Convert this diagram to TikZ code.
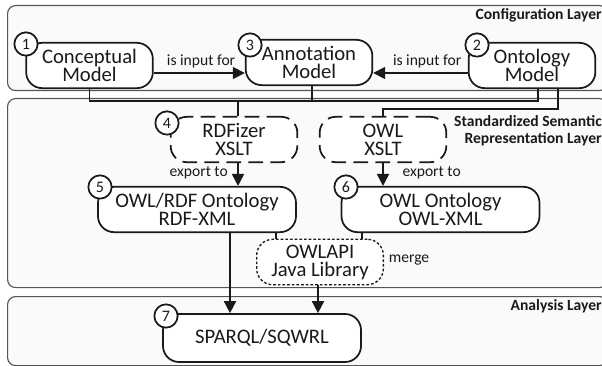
\documentclass[tikz,border=0pt]{standalone}
\usepackage{fontspec}
\setmainfont{Carlito}
\usetikzlibrary{arrows.meta}
\definecolor{layerline}{HTML}{555555}
\definecolor{ink}{HTML}{1A1A1A}
\tikzset{
  x=0.75pt,y=-0.75pt,
  layerbox/.style={draw=layerline,line width=0.85pt,rounded corners=6pt,fill=white!98!black,anchor=north west,inner sep=0pt},
  modelbox/.style={draw=ink,line width=1.3pt,rounded corners=12pt,fill=white,inner sep=0pt,align=center,
    font=\fontsize{15.5}{13.5}\selectfont,text=ink},
  normalbox/.style={modelbox,minimum width=95pt,minimum height=34pt},
  widebox/.style={modelbox,minimum width=148.5pt,minimum height=34pt},
  xsltbox/.style={normalbox,dash pattern=on 11pt off 5.5pt},
  apibox/.style={normalbox,line width=1pt,dash pattern=on 2pt off 1.5pt},
  numcircle/.style={circle,draw=ink,line width=1.3pt,fill=white,inner sep=0pt,minimum size=17.5pt,
    font=\fontsize{12}{12}\selectfont,text=ink},
  conn/.style={draw=ink,line width=1.3pt},
  flow/.style={conn,-{Triangle[length=9pt,width=9pt]}},
  edgelabel/.style={font=\fontsize{11.7}{11.7}\selectfont,text=ink,inner sep=0pt},
  layertitle/.style={font=\bfseries\fontsize{11.7}{12.7}\selectfont,text=ink,inner sep=0pt,anchor=east,align=right},
}
\begin{document}
\begin{tikzpicture}
\useasboundingbox (0,0) rectangle (602,366);
% layers
\node[layerbox,minimum width=450pt,minimum height=63.75pt] (config) at (7,5) {};
\node[layerbox,minimum width=450pt,minimum height=141.75pt] (std) at (7,98) {};
\node[layerbox,minimum width=450pt,minimum height=51.75pt] (analysis) at (7,296) {};
\node[layertitle] (t1) at (602,15) {Configuration Layer};
\node[layertitle] (t2) at (602,131) {Standardized Semantic\\Representation Layer};
\node[layertitle] (t3) at (602,306) {Analysis Layer};
% boxes
\node[normalbox] (concept) at (89.5,65.5) {Conceptual\\Model};
\node[normalbox] (annot) at (309,62.5) {Annotation\\Model};
\node[normalbox] (onto) at (532,65.5) {Ontology\\Model};
\node[xsltbox] (rdfizer) at (234,139.5) {RDFizer\\XSLT};
\node[xsltbox] (owlx) at (383,139.5) {OWL\\XSLT};
\node[widebox] (owlrdf) at (197,209.5) {OWL/RDF Ontology\\RDF-XML};
\node[widebox] (owlont) at (440.5,209.5) {OWL Ontology\\OWL-XML};
\node[apibox] (api) at (320,262) {OWLAPI\\Java Library};
\node[widebox,minimum height=36pt] (sparql) at (262,338) {SPARQL/SQWRL};
% connectors
\coordinate (bus) at (538,101);
\coordinate (busb) at (558,109);
\draw[conn] (concept.south) |- (bus) -- ([xshift=4.5pt]onto.south);
\draw[conn] ([xshift=2.25pt]annot.south) |- (bus);
\draw[conn] ([xshift=3pt]rdfizer.north) |- (bus);
\draw[conn] ([xshift=19.5pt]onto.south) |- (busb) -| (owlx.north);
\draw[flow] (concept.east |- 0,73) -- node[edgelabel,pos=0.52,yshift=8.5pt] (l1) {is input for} (annot.west |- 0,73);
\draw[flow] (onto.west |- 0,73) -- node[edgelabel,pos=0.43,yshift=8.5pt] (l2) {is input for} (annot.east |- 0,73);
\draw[flow] ([xshift=3pt]rdfizer.south) -- node[edgelabel,left=7pt,yshift=1.5pt] (l3) {export to} ([xshift=3pt]rdfizer.south |- owlrdf.north);
\draw[flow] (owlx.south) -- node[edgelabel,right=14pt,yshift=1.5pt] (l4) {export to} (owlx.south |- owlont.north);
\draw[flow] (owlrdf.south -| 230,0) -- (sparql.north -| 230,0);
\draw[flow] (api.south -| 318,0) -- (sparql.north -| 318,0);
\draw[conn] (owlrdf.south -| 276,0) -- (api.north -| 276,0);
\draw[conn] (owlont.south -| 362,0) -- (api.north -| 362,0);
\node[edgelabel] (merge) at (409,260) {merge};
% numbers
\node[numcircle] (n1) at (26,44) {1};
\node[numcircle] (n2) at (477,45) {2};
\node[numcircle] (n3) at (250,45) {3};
\node[numcircle] (n4) at (167,123) {4};
\node[numcircle] (n5) at (100,187) {5};
\node[numcircle] (n6) at (346,187) {6};
\node[numcircle] (n7) at (166,316) {7};
\end{tikzpicture}
\end{document}
